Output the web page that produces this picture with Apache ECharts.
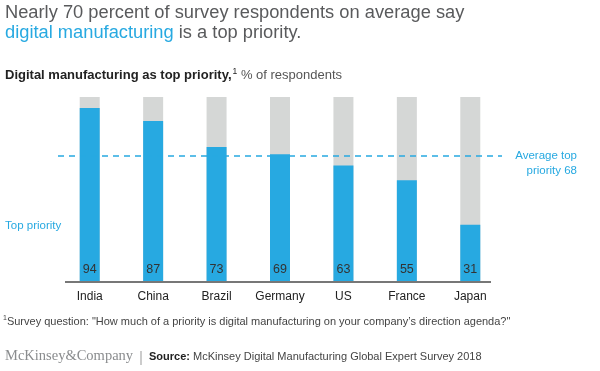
<!DOCTYPE html>
<html><head><meta charset="utf-8">
<script src="https://cdn.jsdelivr.net/npm/echarts@6/dist/echarts.min.js"></script>
<style>html,body{margin:0;padding:0;background:#fff}#c{width:600px;height:371px}</style>
</head><body><div id="c"></div>
<script>
const categories = ['India','China','Brazil','Germany','US','France','Japan'];
const topPriority = [94, 87, 73, 69, 63, 55, 31];
const averageTop = 68;
const axisMax = 100;

const BLUE = '#27a9e1', GRAY = '#d5d7d6';
const chart = echarts.init(document.getElementById('c'));
const F = 'Liberation Sans, Arial, Helvetica, sans-serif';
chart.setOption({
  animation: false,
  textStyle: { fontFamily: F },
  grid: { left: 58, right: 98, top: 97, bottom: 89 },
  xAxis: {
    type: 'category', data: categories,
    axisLine: { show: false }, axisTick: { show: false },
    axisLabel: { interval: 0, color: '#222', fontSize: 12, margin: 9, fontFamily: F }
  },
  yAxis: { type: 'value', min: 0, max: axisMax, show: false, splitLine: { show: false } },
  series: [{
    type: 'bar', data: topPriority, barWidth: 20,
    itemStyle: { color: BLUE },
    showBackground: true, backgroundStyle: { color: GRAY },
    label: { show: true, position: 'insideBottom', distance: 6, color: '#333', fontSize: 12.5, fontFamily: F },
    markLine: {
      symbol: 'none', silent: true,
      lineStyle: { color: BLUE, type: [6, 5], width: 1.5 },
      label: { show: false },
      data: [{ yAxis: averageTop }]
    },
    z: 2
  }],
  graphic: [
    { type: 'line', shape: { x1: 65, y1: 282, x2: 491, y2: 282 }, style: { stroke: '#777', lineWidth: 2 }, z: 10 },
    { type: 'text', right: 23, top: 148, style: { text: 'Average top\npriority ' + averageTop, fill: BLUE, font: '11.5px ' + F, textAlign: 'right', lineHeight: 15 } },
    { type: 'text', left: 5, top: 220, style: { text: 'Top priority', fill: BLUE, font: '11.5px ' + F } },
    { type: 'text', left: 5, top: 4, style: {
      text: '{g|Nearly 70 percent of survey respondents on average say}\n{b|digital manufacturing}{g| is a top priority.}',
      rich: { g: { fill: '#595a5c', font: '18.3px ' + F, lineHeight: 20 }, b: { fill: BLUE, font: '18.3px ' + F, lineHeight: 20 } } } },
    { type: 'text', left: 5, top: 67, style: {
      text: '{b|Digital manufacturing as top priority,}{s|1}{g| % of respondents}',
      rich: { b: { fill: '#222', font: 'bold 13px ' + F }, s: { fill: '#222', font: '8.5px ' + F, verticalAlign: 'top', padding: [0,0,7,1] }, g: { fill: '#555', font: '13px ' + F } } } },
    { type: 'text', left: 3, top: 315, style: {
      text: '{s|1}{t|Survey question: "How much of a priority is digital manufacturing on your company\u2019s direction agenda?"}',
      rich: { s: { fill: '#444', font: '7px ' + F, padding: [0,0,6,0] }, t: { fill: '#444', font: '11px ' + F } } } },
    { type: 'text', left: 5, top: 349, style: { text: 'McKinsey&Company', fill: '#8a8c8e', font: '14.5px Liberation Serif, DejaVu Serif, serif' } },
    { type: 'line', shape: { x1: 141, y1: 351, x2: 141, y2: 365 }, style: { stroke: '#999', lineWidth: 1 } },
    { type: 'text', left: 149, top: 351, style: {
      text: '{b|Source:}{t| McKinsey Digital Manufacturing Global Expert Survey 2018}',
      rich: { b: { fill: '#222', font: 'bold 11px ' + F }, t: { fill: '#444', font: '11px ' + F } } } }
  ]
});
</script></body></html>
